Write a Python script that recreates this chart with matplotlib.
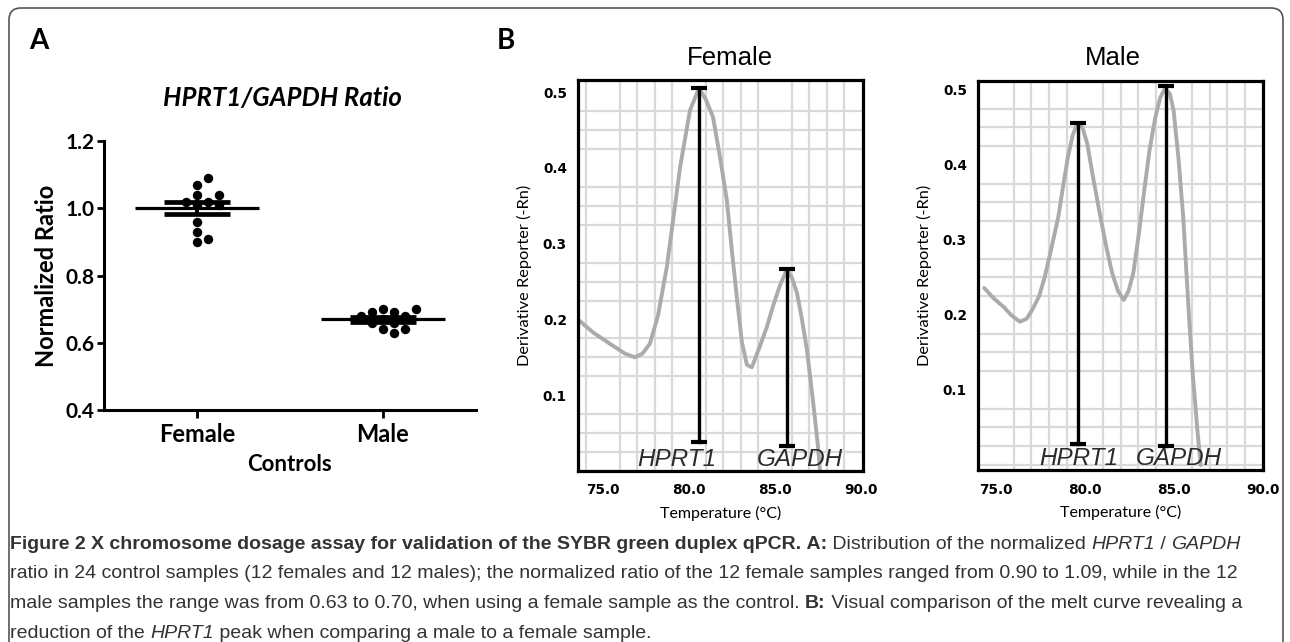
import numpy as np
import matplotlib
matplotlib.use("Agg")
import matplotlib.pyplot as plt
from matplotlib import font_manager
from matplotlib.patches import FancyBboxPatch
from matplotlib.transforms import IdentityTransform

# ---- data --------------------------------------------------------------
groups = ["Female", "Male"]
female_ratio = [1.01, 0.96, 1.02, 1.02, 1.01, 1.04, 1.04, 1.07, 1.09, 0.93, 0.91, 0.90]
male_ratio = [0.67, 0.66, 0.66, 0.68, 0.68, 0.64, 0.64, 0.69, 0.69, 0.63, 0.70, 0.70]

# melt curves (temperature, derivative reporter)
female_temp = [73.55, 74.42, 75.4, 76.28, 76.86, 77.3, 77.73, 78.2, 78.72, 79.13, 79.48,
               80.06, 80.58, 80.99, 81.4, 81.8, 82.2, 82.5, 82.8, 83.08, 83.37, 83.66,
               84.13, 84.53, 84.88, 85.29, 85.7, 85.99, 86.28, 86.57, 86.86, 87.2, 87.5, 87.62]
female_deriv = [0.200, 0.183, 0.168, 0.155, 0.150, 0.155, 0.168, 0.205, 0.270, 0.340, 0.400,
                0.476, 0.505, 0.490, 0.467, 0.415, 0.358, 0.290, 0.226, 0.170, 0.140, 0.137,
                0.165, 0.190, 0.217, 0.245, 0.266, 0.255, 0.235, 0.200, 0.160, 0.095, 0.033, 0.0]

male_temp = [74.35, 74.89, 75.43, 75.86, 76.35, 76.73, 77.05, 77.43, 77.75, 78.13, 78.51,
             78.78, 79.05, 79.32, 79.59, 79.86, 80.13, 80.45, 80.83, 81.21, 81.53, 81.86,
             82.18, 82.45, 82.72, 83.04, 83.36, 83.63, 83.96, 84.23, 84.5, 84.77, 84.98,
             85.25, 85.52, 85.68, 85.85, 86.06, 86.33, 86.5]
male_deriv = [0.236, 0.222, 0.211, 0.200, 0.191, 0.195, 0.207, 0.225, 0.251, 0.290, 0.331,
              0.372, 0.411, 0.440, 0.456, 0.450, 0.429, 0.385, 0.336, 0.290, 0.256, 0.232,
              0.220, 0.232, 0.256, 0.310, 0.371, 0.420, 0.464, 0.490, 0.502, 0.495, 0.473,
              0.410, 0.331, 0.265, 0.197, 0.120, 0.043, 0.0]

peak_names = ["HPRT1", "GAPDH"]
female_peak_temp = [80.58, 85.7]
female_peak_top = [0.505, 0.266]
female_peak_bottom = [0.038, 0.033]
male_peak_temp = [79.64, 84.55]
male_peak_top = [0.456, 0.505]
male_peak_bottom = [0.028, 0.025]

temp_ticks = [75, 80, 85, 90]
deriv_ticks = [0.1, 0.2, 0.3, 0.4, 0.5]
ratio_ticks = [0.4, 0.6, 0.8, 1.0, 1.2]

# ---- fonts -------------------------------------------------------------
installed = {f.name for f in font_manager.fontManager.ttflist}
narrow = "Liberation Sans Narrow" if "Liberation Sans Narrow" in installed else "Liberation Sans"

W, H = 1290, 642
fig = plt.figure(figsize=(W / 100, H / 100), dpi=100)


def fbox(l, t, r, b):
    return [l / W, 1 - b / H, (r - l) / W, (b - t) / H]


# ---- panel A -----------------------------------------------------------
axA = fig.add_axes(fbox(104, 141, 476, 410))
sx = 372 / 2.0      # px per x unit
sy = 269 / 0.8      # px per y unit
dot = 9.5           # px
step = 0.03


def swarm(vals, center):
    placed = []
    xs = []
    cands = [0]
    for i in range(1, 30):
        cands += [i, -i]
    for v in vals:
        for c in cands:
            ox = c * step
            if all(((ox - px) * sx) ** 2 + ((v - py) * sy) ** 2 >= dot ** 2 for px, py in placed):
                break
        placed.append((ox, v))
        xs.append(center + ox)
    return xs


for i, vals in enumerate([female_ratio, male_ratio]):
    xs = swarm(vals, i)
    axA.scatter(xs, vals, s=46, color="black", zorder=3, linewidths=0)
    m = np.mean(vals)
    sem = np.std(vals, ddof=1) / np.sqrt(len(vals))
    axA.plot([i - 0.335, i + 0.335], [m, m], color="black", lw=2.3, zorder=4, solid_capstyle="butt")
    axA.plot([i, i], [m - sem, m + sem], color="black", lw=2.8, zorder=4)
    for yy in (m - sem, m + sem):
        axA.plot([i - 0.18, i + 0.18], [yy, yy], color="black", lw=3.4, zorder=4, solid_capstyle="butt")

axA.set_xlim(-0.5, 1.5)
axA.set_ylim(0.4, 1.2)
axA.set_yticks(ratio_ticks)
axA.set_yticklabels([f"{t:.1f}" for t in ratio_ticks], fontfamily="Lato", fontweight="bold", fontsize=15)
axA.set_xticks([0, 1])
axA.set_xticklabels(groups, fontfamily="Lato", fontweight="bold", fontsize=17)
for s in ["top", "right"]:
    axA.spines[s].set_visible(False)
for s in ["left", "bottom"]:
    axA.spines[s].set_linewidth(2.2)
axA.tick_params(axis="y", length=5, width=2, pad=2)
axA.tick_params(axis="x", length=6, width=2, pad=3)
axA.set_ylabel("Normalized Ratio", fontfamily="Lato", fontweight="bold", fontsize=17, labelpad=5)
axA.set_xlabel("Controls", fontfamily="Lato", fontweight="bold", fontsize=16, labelpad=6)
fig.text(282 / W, 1 - 98 / H, "HPRT1/GAPDH Ratio", ha="center", va="center",
         fontfamily="Lato", fontweight="bold", fontstyle="italic", fontsize=18.5)
fig.text(39 / W, 1 - 41 / H, "A", ha="center", va="center", fontfamily="Lato",
         fontweight="bold", fontsize=20)
fig.text(506 / W, 1 - 41 / H, "B", ha="center", va="center", fontfamily="Lato",
         fontweight="bold", fontsize=20)

# ---- panel B -----------------------------------------------------------
panels = [
    (fbox(578, 80, 863, 471), "Female", (73.55, 90.12), (0.0, 0.516),
     female_temp, female_deriv, female_peak_temp, female_peak_top, female_peak_bottom,
     [79.3, 86.45], 730),
    (fbox(978, 81, 1263, 470), "Male", (74.24, 89.62), (-0.0067, 0.512),
     male_temp, male_deriv, male_peak_temp, male_peak_top, male_peak_bottom,
     [79.64, 85.25], 1113),
]

for rect, title, xl, yl, tx, ty, pk_t, pk_top, pk_bot, lab_x, title_x in panels:
    ax = fig.add_axes(rect)
    ax.set_xlim(*xl)
    ax.set_ylim(*yl)
    ax.set_xticks(np.arange(74, 91, 1.0), minor=True)
    ax.set_yticks(np.arange(0.0, 0.52, 0.025), minor=True)
    ax.grid(which="minor", color="#d9d9d9", lw=1.6)
    ax.set_axisbelow(True)
    ax.set_xticks(temp_ticks)
    ax.set_xticklabels([f"{t:.1f}" for t in temp_ticks], fontweight="bold", fontsize=9.8)
    ax.set_yticks(deriv_ticks)
    ax.set_yticklabels([f"{t:.1f}" for t in deriv_ticks], fontweight="bold", fontsize=9.8)
    ax.tick_params(which="both", length=0)
    ax.tick_params(axis="x", pad=9)
    ax.tick_params(axis="y", pad=8)
    for s in ax.spines.values():
        s.set_linewidth(2.3)
    ax.plot(tx, ty, color="#ababab", lw=2.8, solid_capstyle="round", solid_joinstyle="round", zorder=2)
    for t, top, bot in zip(pk_t, pk_top, pk_bot):
        ax.plot([t, t], [bot, top], color="black", lw=2.4, zorder=3)
        for yy in (bot, top):
            ax.plot([t - 0.45, t + 0.45], [yy, yy], color="black", lw=3.0, zorder=3,
                    solid_capstyle="butt")
    for name, lx in zip(peak_names, lab_x):
        ax.text(lx, yl[0] + 0.007, name, ha="center", va="baseline", fontfamily="Liberation Sans",
                fontstyle="italic", fontsize=17.5, color="#2a2a2a", zorder=4)
    ax.set_ylabel("Derivative Reporter (-Rn)", fontfamily="Lato", fontsize=11.8, labelpad=8)
    ax.set_xlabel("Temperature (°C)", fontfamily="Lato", fontsize=11.5, labelpad=6)
    fig.text(title_x / W, 1 - 58 / H, title, ha="center", va="center",
             fontfamily="Liberation Sans", fontsize=18.5)

# ---- frame -------------------------------------------------------------
frame = FancyBboxPatch((9, -30), 1274, H - 8 + 30, boxstyle="round,pad=0,rounding_size=12",
                       transform=IdentityTransform(), fill=False, ec="#555555", lw=1.2)
fig.add_artist(frame)

# ---- caption -----------------------------------------------------------
caption = [
    [("Figure 2 X chromosome dosage assay for validation of the SYBR green duplex qPCR. A:", "bold"),
     (" Distribution of the normalized ", "normal"), ("HPRT1", "italic"), (" / ", "normal"),
     ("GAPDH", "italic")],
    [("ratio in 24 control samples (12 females and 12 males); the normalized ratio of the 12 female "
      "samples ranged from 0.90 to 1.09, while in the 12", "normal")],
    [("male samples the range was from 0.63 to 0.70, when using a female sample as the control. ",
      "normal"), ("B:", "bold"), (" Visual comparison of the melt curve revealing a", "normal")],
    [("reduction of the ", "normal"), ("HPRT1", "italic"), (" peak when comparing a male to a female sample.",
                                                          "normal")],
]

renderer = fig.canvas.get_renderer()
probe = fig.text(0, 0, caption[1][0][0], fontfamily=narrow, fontsize=10)
cap_size = 10 * 1225 / probe.get_window_extent(renderer).width
probe.remove()


def draw_runs(x, y, runs):
    for txt, style in runs:
        kw = dict(fontfamily=narrow, fontsize=cap_size, color="#333333", va="baseline")
        if style == "bold":
            kw["fontweight"] = "bold"
        if style == "italic":
            kw["fontstyle"] = "italic"
        t = fig.text(x / W, 1 - y / H, txt.replace(" ", "\u00a0"), **kw)
        x += t.get_window_extent(renderer).width


for k, runs in enumerate(caption):
    draw_runs(10, 549 + 29.5 * k, runs)

fig.savefig("out.png", dpi=100)
